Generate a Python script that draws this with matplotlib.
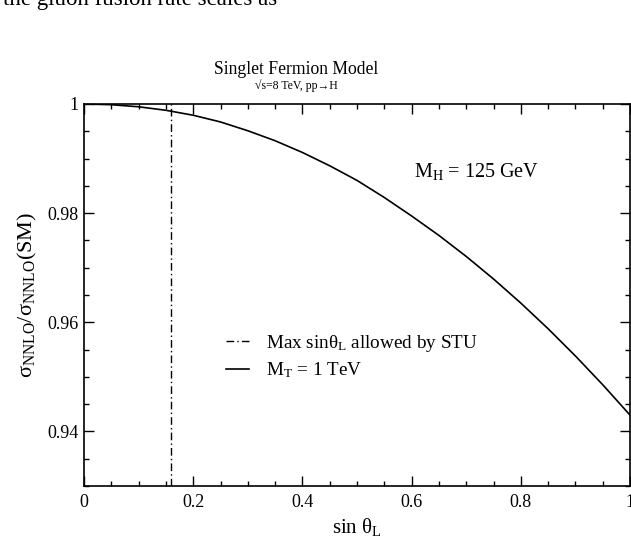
import matplotlib
matplotlib.use("Agg")
import matplotlib.pyplot as plt
from matplotlib.ticker import MultipleLocator

plt.rcParams['font.family'] = ['Liberation Serif', 'DejaVu Serif']
plt.rcParams['mathtext.fontset'] = 'custom'
plt.rcParams['mathtext.rm'] = 'Liberation Serif'
plt.rcParams['mathtext.it'] = 'Liberation Serif:italic'

# sin(theta_L) grid and the NNLO cross-section ratio for M_T = 1 TeV
sin_theta = [0.00, 0.05, 0.10, 0.15, 0.20, 0.25, 0.30, 0.35, 0.40, 0.45, 0.50,
             0.55, 0.60, 0.65, 0.70, 0.75, 0.80, 0.85, 0.90, 0.95, 1.00]
ratio_mt1 = [1.00000, 0.99987, 0.99949, 0.99885, 0.99794, 0.99671, 0.99510,
             0.99327, 0.99112, 0.98868, 0.98600, 0.98287, 0.97948, 0.97592,
             0.97207, 0.96794, 0.96352, 0.95882, 0.95383, 0.94856, 0.94300]
# largest sin(theta_L) allowed by the oblique parameters
stu_max_sin = 0.159

x_ticks = [0, 0.2, 0.4, 0.6, 0.8, 1]
x_tick_labels = ['0', '0.2', '0.4', '0.6', '0.8', '1']
y_ticks = [0.94, 0.96, 0.98, 1.0]
y_tick_labels = ['0.94', '0.96', '0.98', '1']

W, H = 631, 542
fig = plt.figure(figsize=(W / 100, H / 100), dpi=100)
ax = fig.add_axes([84 / W, (H - 486) / H, (630 - 84) / W, (486 - 104) / H])

ax.axvline(stu_max_sin, color='black', lw=1.0, ls=(0, (5.5, 2.3, 1.0, 2.3)),
           label=r'Max sinθ$_\mathrm{L}$ allowed by STU')
ax.plot(sin_theta, ratio_mt1, color='black', lw=1.2,
        label=r'M$_\mathrm{T}$ = 1 TeV')

ax.set_xlim(0, 1)
ax.set_ylim(0.93, 1.0)
ax.set_xticks(x_ticks)
ax.set_xticklabels(x_tick_labels)
ax.set_yticks(y_ticks)
ax.set_yticklabels(y_tick_labels)
ax.xaxis.set_minor_locator(MultipleLocator(0.05))
ax.yaxis.set_minor_locator(MultipleLocator(0.005))
ax.tick_params(which='both', direction='in', top=True, right=True,
               labelsize=13, width=1.0, color='black')
ax.tick_params(axis='x', pad=6)
ax.tick_params(axis='y', pad=4)
ax.tick_params(which='major', length=7.5)
ax.tick_params(which='minor', length=3.8)
for sp in ax.spines.values():
    sp.set_linewidth(1.2)

ax.set_xlabel(r'sin θ$_\mathrm{L}$', fontsize=15, labelpad=3)
ax.set_ylabel(r'σ$_\mathrm{NNLO}$/σ$_\mathrm{NNLO}$(SM)', fontsize=16, labelpad=6)

fig.text(414 / W, 1 - 172 / H, r'M$_\mathrm{H}$ = 125 GeV', fontsize=14.5,
         ha='left', va='center')

leg = ax.legend(loc='upper left', bbox_to_anchor=(222 / W, 1 - 329 / H),
                bbox_transform=fig.transFigure, frameon=False, fontsize=13.8,
                handlelength=1.2, handletextpad=0.88, labelspacing=0.36,
                borderpad=0.2, borderaxespad=0)

fig.text(296 / W, 1 - 70 / H, 'Singlet Fermion Model', fontsize=12.7,
         ha='center', va='center')
fig.text(296 / W, 1 - 86 / H, '√s=8 TeV, pp→H', fontsize=8.5,
         ha='center', va='center')
fig.text(277 / W, 1 - 5 / H, 'the gluon fusion rate scales as', fontsize=16.5,
         ha='right', va='baseline')

fig.savefig('out.png', dpi=100)
